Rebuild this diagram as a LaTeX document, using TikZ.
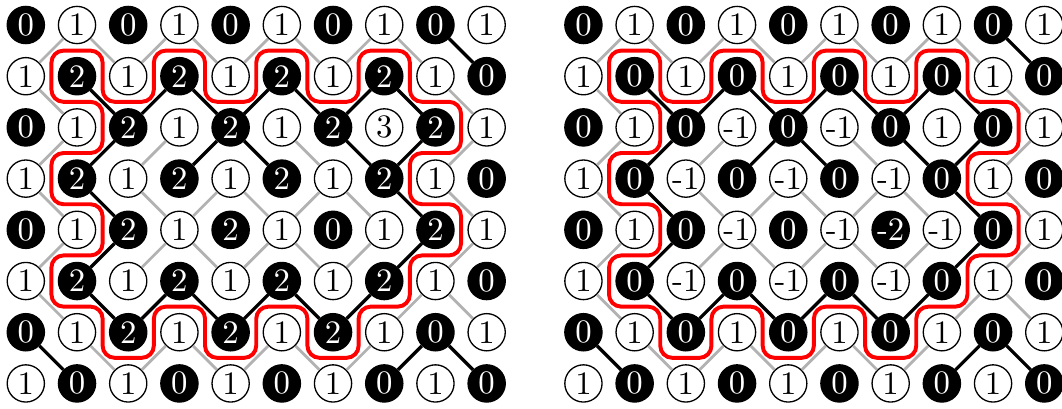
\documentclass[tikz,border=0pt]{standalone}
\usepackage{xcolor}
\usepackage{tikz}
\tikzstyle{whitenode} = [circle, draw=black, fill=white, minimum size=0.4cm, inner sep=0pt]
\tikzstyle{blacknode} = [circle, draw=black, fill=black, text=white, minimum size=0.4cm, inner sep=0pt]
\tikzstyle{blackedge} = [line width=1pt, black]
\tikzstyle{grayedge} = [line width=0.85pt, black!30]
\tikzstyle{redloop} = [line width=1.2pt, red, rounded corners=0.13cm]

\begin{document}
\begin{tikzpicture}[x=0.55cm, y=0.55cm]
    \useasboundingbox (-0.504,0.488) rectangle (20.236,-7.48);

    % heights before
    \foreach \vals [count=\rw from 0] in {{0,1,0,1,0,1,0,1,0,1},{1,2,1,2,1,2,1,2,1,0},{0,1,2,1,2,1,2,3,2,1},{1,2,1,2,1,2,1,2,1,0},{0,1,2,1,2,1,0,1,2,1},{1,2,1,2,1,2,1,2,1,0},{0,1,2,1,2,1,2,1,0,1},{1,0,1,0,1,0,1,0,1,0}} {
        \foreach \v [count=\cl from 0] in \vals {
            \ifodd\numexpr\rw+\cl\relax
                \node[whitenode] (L-\rw-\cl) at (\cl,-\rw) {\v};
            \else
                \node[blacknode] (L-\rw-\cl) at (\cl,-\rw) {\v};
            \fi
        }
    }

    % heights after
    \foreach \vals [count=\rw from 0] in {{0,1,0,1,0,1,0,1,0,1},{1,0,1,0,1,0,1,0,1,0},{0,1,0,-1,0,-1,0,1,0,1},{1,0,-1,0,-1,0,-1,0,1,0},{0,1,0,-1,0,-1,-2,-1,0,1},{1,0,-1,0,-1,0,-1,0,1,0},{0,1,0,1,0,1,0,1,0,1},{1,0,1,0,1,0,1,0,1,0}} {
        \foreach \v [count=\cl from 0] in \vals {
            \ifodd\numexpr\rw+\cl\relax
                \node[whitenode] (R-\rw-\cl) at ({\cl+10.89},-\rw) {\v};
            \else
                \node[blacknode] (R-\rw-\cl) at ({\cl+10.89},-\rw) {\v};
            \fi
        }
    }

    % one diagonal per face, 1 = black one
    \foreach \g in {L,R} {
        \foreach \cells [count=\rw from 0] in {{0,0,0,0,0,0,0,0,1},{0,1,1,1,1,1,1,1,0},{0,1,0,1,1,0,1,1,0},{0,1,0,0,0,0,0,1,0},{0,1,0,0,0,0,0,1,0},{0,1,1,1,1,1,1,0,0},{1,0,0,0,0,0,0,1,1}} {
            \foreach \t [count=\cl from 0] in \cells {
                \pgfmathtruncatemacro{\dn}{\rw+1}
                \pgfmathtruncatemacro{\rt}{\cl+1}
                \pgfmathtruncatemacro{\back}{mod(\rw+\cl+\t,2)}
                \ifnum\t=1 \def\est{blackedge}\else\def\est{grayedge}\fi
                \ifnum\back=1
                    \draw[\est] (\g-\rw-\cl) -- (\g-\dn-\rt);
                \else
                    \draw[\est] (\g-\rw-\rt) -- (\g-\dn-\cl);
                \fi
            }
        }
    }

    % the red contour
    \foreach \ox in {0,10.89} {
        \draw[redloop, shift={(\ox,0)}] (1,-0.5) -- (1.5,-0.5) -- (1.5,-1.5) -- (2.5,-1.5) -- (2.5,-0.5) -- (3.5,-0.5) -- (3.5,-1.5) -- (4.5,-1.5) -- (4.5,-0.5) -- (5.5,-0.5) -- (5.5,-1.5) -- (6.5,-1.5) -- (6.5,-0.5) -- (7.5,-0.5) -- (7.5,-1.5) -- (8.5,-1.5) -- (8.5,-2.5) -- (7.5,-2.5) -- (7.5,-3.5) -- (8.5,-3.5) -- (8.5,-4.5) -- (7.5,-4.5) -- (7.5,-5.5) -- (6.5,-5.5) -- (6.5,-6.5) -- (5.5,-6.5) -- (5.5,-5.5) -- (4.5,-5.5) -- (4.5,-6.5) -- (3.5,-6.5) -- (3.5,-5.5) -- (2.5,-5.5) -- (2.5,-6.5) -- (1.5,-6.5) -- (1.5,-5.5) -- (0.5,-5.5) -- (0.5,-4.5) -- (1.5,-4.5) -- (1.5,-3.5) -- (0.5,-3.5) -- (0.5,-2.5) -- (1.5,-2.5) -- (1.5,-1.5) -- (0.5,-1.5) -- (0.5,-0.5) -- cycle;
    }
\end{tikzpicture}
\end{document}
